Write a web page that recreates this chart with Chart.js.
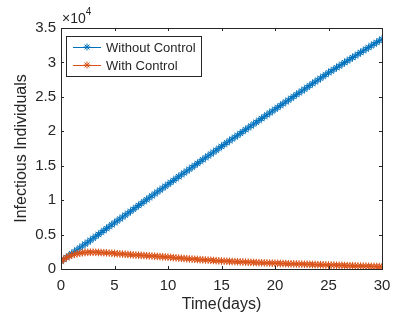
<!DOCTYPE html>
<html>
<head>
<meta charset="utf-8">
<script src="https://cdn.jsdelivr.net/npm/chart.js@4/dist/chart.umd.min.js"></script>
<style>
html,body{margin:0;padding:0;background:#fff;}
#wrap{width:406px;height:319px;position:relative;}
</style>
</head>
<body>
<div id="wrap"><canvas id="c" width="406" height="319"></canvas></div>
<script>
// time axis, 0.25-day steps
const times = [];
for (let i = 0; i <= 120; i++) times.push(i * 0.25);

const withoutControl = [
 1100,1380,1660,1940,2220,2500,2780,3060,3340,3620,3900,4180,4460,4740,5020,5300,5580,5860,6140,6420,6700,
 6980,7260,7540,7820,8100,8380,8660,8940,9220,9500,9780,10060,10340,10620,10900,11180,11460,11740,12020,12300,
 12575,12850,13125,13400,13675,13950,14225,14500,14775,15050,15325,15600,15875,16150,16425,16700,16975,17250,17525,17800,
 18070,18340,18610,18880,19150,19420,19690,19960,20230,20500,20770,21040,21310,21580,21850,22120,22390,22660,22930,23200,
 23465,23730,23995,24260,24525,24790,25055,25320,25585,25850,26115,26380,26645,26910,27175,27440,27705,27970,28235,28500,
 28745,28990,29235,29480,29725,29970,30215,30460,30705,30950,31195,31440,31685,31930,32175,32420,32665,32910,33155,33400
];

const withControl = [
 1100,1400,1650,1850,2000,2120,2220,2300,2360,2400,2420,2430,2430,2420,2410,2390,2370,2345,2320,2290,2260,
 2230,2200,2170,2140, 2110,2085,2055,2030, 2005,1980,1955,1930, 1905,1880,1855,1830, 1800,1775,1745,1720,
 1690,1655,1625,1590, 1560,1525,1495,1460, 1435,1410,1385,1360, 1335,1310,1285,1260, 1235,1210,1185,1160,
 1140,1125,1105,1090, 1070,1055,1035,1020, 1000,985,965,950, 935,920,905,890, 875,860,845,830,
 818,805,793,780, 768,755,743,730, 718,705,693,680, 668,655,643,630, 618,605,593,580,
 568,555,543,530, 518,505,493,480, 468,455,443,430, 418,405,393,380, 368,355,343,330
];

const seriesLabels = ["Without Control", "With Control"];
const seriesColors = ["#0072BD", "#D95319"];
const xTicks = [0,5,10,15,20,25,30];
const yTicks = [0,5000,10000,15000,20000,25000,30000,35000];

const axisColor = "#262626";
const FONT = "'Liberation Sans', Arial, sans-serif";

const boxPlugin = {
  id: 'boxPlugin',
  afterDraw(chart) {
    const ctx = chart.ctx;
    const a = chart.chartArea;
    const xs = chart.scales.x, ys = chart.scales.y;
    ctx.save();
    ctx.strokeStyle = axisColor;
    ctx.lineWidth = 1;
    // box
    ctx.strokeRect(Math.round(a.left)+0.5, Math.round(a.top)+0.5, Math.round(a.right-a.left), Math.round(a.bottom-a.top));
    // inner ticks
    const tl = 3;
    ctx.beginPath();
    xTicks.forEach(v => {
      const px = Math.round(xs.getPixelForValue(v)) + 0.5;
      ctx.moveTo(px, a.bottom); ctx.lineTo(px, a.bottom - tl);
      ctx.moveTo(px, a.top); ctx.lineTo(px, a.top + tl);
    });
    yTicks.forEach(v => {
      const py = Math.round(ys.getPixelForValue(v)) + 0.5;
      ctx.moveTo(a.left, py); ctx.lineTo(a.left + tl, py);
      ctx.moveTo(a.right, py); ctx.lineTo(a.right - tl, py);
    });
    ctx.stroke();
    // exponent label
    ctx.fillStyle = axisColor;
    ctx.textBaseline = 'alphabetic';
    ctx.textAlign = 'left';
    ctx.font = "14px " + FONT;
    ctx.fillText("\u00d710", a.left + 1, a.top - 5);
    const w = ctx.measureText("\u00d710").width;
    ctx.font = "10px " + FONT;
    ctx.fillText("4", a.left + 1 + w, a.top - 13);
    // legend
    const lx = 66, ly = 36, lw = 135, lh = 40;
    ctx.fillStyle = "#fff";
    ctx.fillRect(lx, ly, lw, lh);
    ctx.strokeStyle = axisColor;
    ctx.strokeRect(lx + 0.5, ly + 0.5, lw, lh);
    ctx.font = "13px " + FONT;
    ctx.textBaseline = 'middle';
    seriesLabels.forEach((lab, i) => {
      const cy = ly + 11 + i * 18;
      ctx.strokeStyle = seriesColors[i];
      ctx.lineWidth = 1;
      ctx.beginPath(); ctx.moveTo(73, cy + 0.5); ctx.lineTo(101, cy + 0.5); ctx.stroke();
      // star marker
      const r = 3.5, cx = 87;
      ctx.beginPath();
      ctx.moveTo(cx - r, cy); ctx.lineTo(cx + r, cy);
      ctx.moveTo(cx, cy - r); ctx.lineTo(cx, cy + r);
      const d = r * 0.707;
      ctx.moveTo(cx - d, cy - d); ctx.lineTo(cx + d, cy + d);
      ctx.moveTo(cx - d, cy + d); ctx.lineTo(cx + d, cy - d);
      ctx.stroke();
      ctx.fillStyle = axisColor;
      ctx.fillText(lab, 106, cy + 1);
    });
    ctx.restore();
  }
};

const toPts = arr => arr.map((v, i) => ({x: times[i], y: v}));

new Chart(document.getElementById('c'), {
  type: 'line',
  data: {
    datasets: [
      {
        label: seriesLabels[0], data: toPts(withoutControl),
        borderColor: seriesColors[0], backgroundColor: seriesColors[0],
        borderWidth: 1, pointStyle: 'star', pointRadius: 3.8, pointBorderWidth: 1,
        fill: false, tension: 0, order: 2
      },
      {
        label: seriesLabels[1], data: toPts(withControl),
        borderColor: seriesColors[1], backgroundColor: seriesColors[1],
        borderWidth: 1, pointStyle: 'star', pointRadius: 3.8, pointBorderWidth: 1,
        fill: false, tension: 0, order: 1
      }
    ]
  },
  options: {
    responsive: false,
    animation: false,
    devicePixelRatio: 1,
    layout: { padding: { left: 0, top: 28, right: 24, bottom: 0 } },
    plugins: { legend: { display: false }, tooltip: { enabled: false } },
    scales: {
      x: {
        type: 'linear', min: 0, max: 30,
        afterBuildTicks: s => { s.ticks = xTicks.map(v => ({value: v})); },
        afterFit: s => { s.height = 50; },
        grid: { display: false, drawTicks: false },
        border: { display: false },
        ticks: { color: axisColor, font: { size: 15, family: FONT }, padding: 8, maxRotation: 0 },
        title: { display: true, text: 'Time(days)', color: axisColor, font: { size: 16, family: FONT }, padding: { top: 3, bottom: 5 } }
      },
      y: {
        type: 'linear', min: 0, max: 35000,
        afterBuildTicks: s => { s.ticks = yTicks.map(v => ({value: v})); },
        afterFit: s => { s.width = 61; },
        grid: { display: false, drawTicks: false },
        border: { display: false },
        ticks: { color: axisColor, font: { size: 15, family: FONT }, padding: 5, callback: v => String(v / 10000) },
        title: { display: true, text: 'Infectious Individuals', color: axisColor, font: { size: 16, family: FONT }, padding: { top: 12, bottom: 0 } }
      }
    }
  },
  plugins: [boxPlugin]
});
</script>
</body>
</html>
